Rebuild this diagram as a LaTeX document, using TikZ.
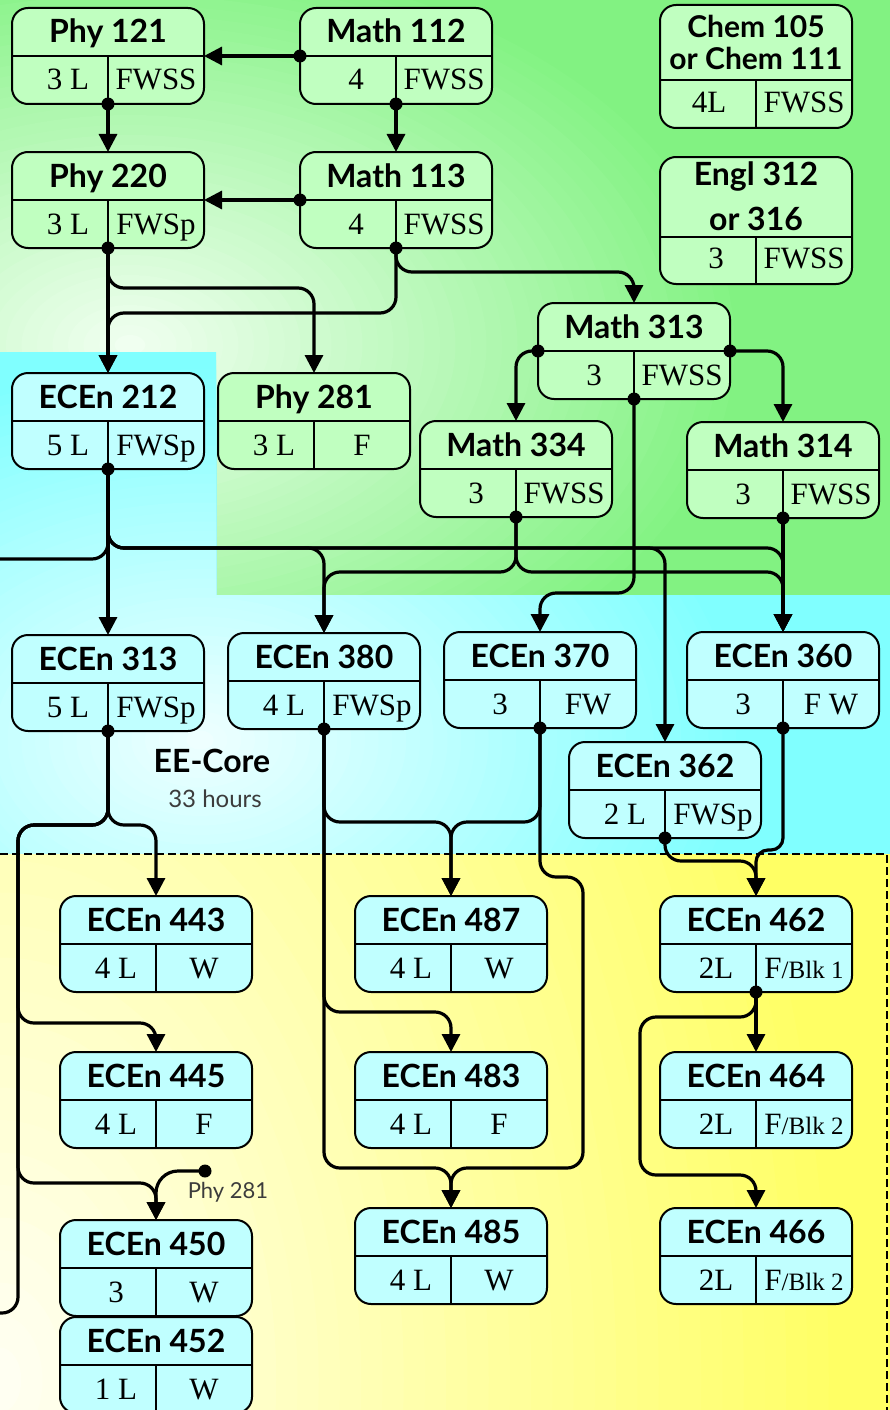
\documentclass[tikz,border=0pt]{standalone}
\usepackage{fontspec}
\setmainfont{Liberation Serif}
\newfontfamily\ttlfont{Lato}
\usetikzlibrary{arrows.meta}
\definecolor{gSat}{RGB}{130,242,130}
\definecolor{gLt}{RGB}{242,255,242}
\definecolor{cSat}{RGB}{128,255,255}
\definecolor{cLt}{RGB}{240,255,255}
\definecolor{ySat}{RGB}{255,255,100}
\definecolor{yLt}{RGB}{255,255,245}
\definecolor{nodeG}{RGB}{192,255,192}
\definecolor{nodeC}{RGB}{192,255,255}
\definecolor{lblgray}{RGB}{60,60,60}
\newcommand\smallblk[1]{{\fontsize{25}{25}\selectfont #1}}
\tikzset{
 box/.style={draw, line width=2pt, rounded corners=16pt, minimum width=192pt, minimum height=96pt, inner sep=0pt, outer sep=0pt},
 divl/.style={line width=2pt},
 ttl/.style={font=\ttlfont\bfseries\fontsize{32}{32}\selectfont, anchor=base, inner sep=0pt},
 ttlsm/.style={font=\ttlfont\bfseries\fontsize{30}{30}\selectfont, anchor=base, inner sep=0pt},
 cell/.style={font=\fontsize{31}{31}\selectfont, anchor=base, inner sep=0pt},
 conn/.style={line width=3.2pt, rounded corners=16pt, -{Triangle[length=18pt,width=18pt]}},
 lbl/.style={font=\ttlfont\fontsize{24}{24}\selectfont, text=lblgray, anchor=base, inner sep=0pt},
}
\newcommand\course[7]{%
  \node[box,fill=#7] (#1) at ({#2},{#3+48}) {};
  \draw[divl] (#1.west) -- (#1.east) (#1.center) -- (#1.south);
  \node[ttl] (#1t) at ({#2},{#3+35}) {#4};
  \node[cell] (#1l) at ({#2-40},{#3+82}) {#5};
  \node[cell] (#1r) at ({#2+48},{#3+82}) {#6};
}
% stepped elliptic gradient: sat, light, cx, cy, dx, dy
\newcommand\ellgrad[6]{%
  \fill[#1] (-10,-10) rectangle (900,1420);
  \foreach \k in {40,39,...,1} {%
    \pgfmathtruncatemacro\pp{2.5*\k}%
    \pgfmathsetmacro\rx{#5/40*\k}%
    \pgfmathsetmacro\ry{#6/40*\k}%
    \fill[#1!\pp!#2] (#3,#4) ellipse [x radius=\rx, y radius=\ry];
  }%
}
\begin{document}
\begin{tikzpicture}[x=1pt,y=-1pt]
\useasboundingbox (0,0) rectangle (890,1410);
% backgrounds
\begin{scope}
 \clip (0,0) -- (890,0) -- (890,595) -- (216,595) -- (216,352) -- (0,352) -- cycle;
 \ellgrad{gSat}{gLt}{130}{345}{620}{400}
\end{scope}
\begin{scope}
 \clip (0,352) -- (216,352) -- (216,595) -- (890,595) -- (890,854) -- (0,854) -- cycle;
 \ellgrad{cSat}{cLt}{200}{740}{550}{380}
\end{scope}
\begin{scope}
 \clip (0,854) rectangle (890,1410);
 \ellgrad{ySat}{yLt}{0}{1380}{850}{1300}
\end{scope}
\draw[line width=1.5pt, dash pattern=on 8pt off 4pt] (0,854) -- (887,854) -- (887,1412);

% courses
\course{p121}{108}{8}{Phy 121}{3 L}{FWSS}{nodeG}
\course{m112}{396}{8}{Math 112}{4}{FWSS}{nodeG}
\course{p220}{108}{152}{Phy 220}{3 L}{FWSp}{nodeG}
\course{m113}{396}{152}{Math 113}{4}{FWSS}{nodeG}
\course{m313}{634}{303}{Math 313}{3}{FWSS}{nodeG}
\course{e212}{108}{373}{ECEn 212}{5 L}{FWSp}{nodeC}
\course{p281}{314}{373}{Phy 281}{3 L}{F}{nodeG}
\course{m334}{516}{421}{Math 334}{3}{FWSS}{nodeG}
\course{m314}{783}{422}{Math 314}{3}{FWSS}{nodeG}
\course{e313}{108}{635}{ECEn 313}{5 L}{FWSp}{nodeC}
\course{e380}{324}{633}{ECEn 380}{4 L}{FWSp}{nodeC}
\course{e370}{540}{632}{ECEn 370}{3}{FW}{nodeC}
\course{e360}{783}{632}{ECEn 360}{3}{F W}{nodeC}
\course{e362}{665}{742}{ECEn 362}{2 L}{FWSp}{nodeC}
\course{e443}{156}{896}{ECEn 443}{4 L}{W}{nodeC}
\course{e487}{451}{896}{ECEn 487}{4 L}{W}{nodeC}
\course{e462}{756}{896}{ECEn 462}{2L}{F\smallblk{/Blk 1}}{nodeC}
\course{e445}{156}{1052}{ECEn 445}{4 L}{F}{nodeC}
\course{e483}{451}{1052}{ECEn 483}{4 L}{F}{nodeC}
\course{e464}{756}{1052}{ECEn 464}{2L}{F\smallblk{/Blk 2}}{nodeC}
\course{e450}{156}{1220}{ECEn 450}{3}{W}{nodeC}
\course{e485}{451}{1208}{ECEn 485}{4 L}{W}{nodeC}
\course{e466}{756}{1208}{ECEn 466}{2L}{F\smallblk{/Blk 2}}{nodeC}
\course{e452}{156}{1317}{ECEn 452}{1 L}{W}{nodeC}

% tall boxes
\node[box, fill=nodeG, minimum height=123pt] (chem) at (756,66.5) {};
\draw[divl] (chem.west |- 0,80) -- (chem.east |- 0,80) (chem.south |- 0,80) -- (chem.south);
\node[ttlsm] (chemt1) at (756,38) {Chem 105};
\node[ttlsm] (chemt2) at (756,70) {or Chem 111};
\node[cell] (cheml) at (709,113) {4L};
\node[cell] (chemr) at (804,113) {FWSS};

\node[box, fill=nodeG, minimum height=127pt] (engl) at (756,220.5) {};
\draw[divl] (engl.west |- 0,237) -- (engl.east |- 0,237) (engl.south |- 0,237) -- (engl.south);
\node[ttl] (englt1) at (756,185) {Engl 312};
\node[ttl] (englt2) at (756,230) {or 316};
\node[cell] (engll) at (716,268) {3};
\node[cell] (englr) at (804,268) {FWSS};

% labels
\node[ttl] (core) at (212,772) {EE-Core};
\node[lbl] (hours) at (215,807) {33 hours};
\node[lbl, font=\ttlfont\fontsize{22}{22}\selectfont] (p281lbl) at (228,1198) {Phy 281};

% free ends
\coordinate (offA) at (-10,559);
\coordinate (offB) at (-10,1313);
\coordinate (bus) at (18,825);
\coordinate (r370) at (583,877);
\coordinate (l462) at (640,1017);
\coordinate (p281ref) at (205,1171);

% connectors
\draw[conn] (m112.west) -- (p121.east);
\draw[conn] (p121.south) -- (p220.north);
\draw[conn] (m112.south) -- (m113.north);
\draw[conn] (m113.west) -- (p220.east);
\draw[conn] (p220.south) -- (e212.north);
\draw[conn] (p220.south) -- (p220.south |- 0,288) -- (p281.north |- 0,288) -- (p281.north);
\draw[conn] (m113.south) -- (m113.south |- 0,313) -- (e212.north |- 0,313) -- (e212.north);
\draw[conn] (m113.south) -- (m113.south |- 0,272) -- (m313.north |- 0,272) -- (m313.north);
\draw[conn] (m313.west) -- (m334.north |- m313.west) -- (m334.north);
\draw[conn] (m313.east) -- (m314.north |- m313.east) -- (m314.north);
\draw[conn] (m313.south) -- (m313.south |- 0,593) -- (e370.north |- 0,593) -- (e370.north);
\draw[conn] (e212.south) -- (e313.north);
\draw[conn,-] (e212.south) -- (e212.south |- 0,559) -- (offA);
\foreach \t in {e380,e362,e360}
  \draw[conn] (e212.south) -- (e212.south |- 0,548) -- (\t.north |- 0,548) -- (\t.north);
\foreach \t in {e380,e360}
  \draw[conn] (m334.south) -- (m334.south |- 0,572) -- (\t.north |- 0,572) -- (\t.north);
\draw[conn] (m314.south) -- (e360.north);
\draw[conn] (e313.south) -- (e313.south |- bus) -- (e443.north |- bus) -- (e443.north);
\draw[conn] (e313.south) -- (e313.south |- bus) -- (bus) -- (bus |- 0,1023) -- (e445.north |- 0,1023) -- (e445.north);
\draw[conn] (e313.south) -- (e313.south |- bus) -- (bus) -- (bus |- 0,1183) -- (e450.north |- 0,1183) -- (e450.north);
\draw[conn,-] (e313.south) -- (e313.south |- bus) -- (bus) -- (bus |- offB) -- (offB);
\draw[conn] (e380.south) -- (e380.south |- 0,822) -- (e487.north |- 0,822) -- (e487.north);
\draw[conn] (e380.south) -- (e380.south |- 0,1012) -- (e483.north |- 0,1012) -- (e483.north);
\draw[conn] (e380.south) -- (e380.south |- 0,1168) -- (e485.north |- 0,1168) -- (e485.north);
\draw[conn] (e370.south) -- (e370.south |- 0,822) -- (e487.north |- 0,822) -- (e487.north);
\draw[conn] (e370.south) -- (e370.south |- r370) -- (r370) -- (r370 |- 0,1168) -- (e485.north |- 0,1168) -- (e485.north);
\draw[conn] (e362.south) -- (e362.south |- 0,861) -- (e462.north |- 0,861) -- (e462.north);
\draw[conn, rounded corners=12pt] (e360.south) -- (e360.south |- 0,850) -- (e462.north |- 0,850) -- (e462.north);
\draw[conn] (e462.south) -- (e464.north);
\draw[conn] (e462.south) -- (e462.south |- l462) -- (l462) -- (l462 |- 0,1175) -- (e466.north |- 0,1175) -- (e466.north);
\draw[conn, rounded corners=22pt] (p281ref) -- (e450.north |- p281ref) -- (e450.north);

% dots
\foreach \a in {m112.west, m112.south, p121.south, m113.west, m113.south, p220.south,
  m313.west, m313.east, m313.south, e212.south, m334.south, m314.south, e313.south,
  e380.south, e370.south, e360.south, e362.south, e462.south, p281ref}
  \fill (\a) circle (6.5pt);
\end{tikzpicture}
\end{document}
